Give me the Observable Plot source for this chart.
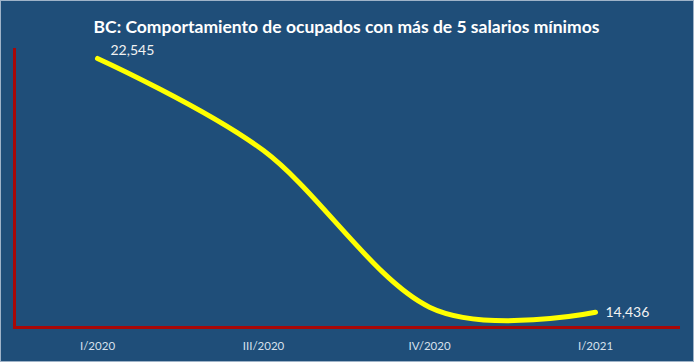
<!DOCTYPE html>
<html>
<head>
<meta charset="utf-8">
<script src="https://cdn.jsdelivr.net/npm/d3@7"></script>
<script src="https://cdn.jsdelivr.net/npm/@observablehq/plot@0.6"></script>
<style>
  html, body { margin: 0; padding: 0; background: #1F4E79; }
  #chart svg { display: block; outline: 1px solid #9fb3c8; outline-offset: -1px; }
</style>
</head>
<body>
<div id="chart"></div>
<script>
const title = "BC: Comportamiento de ocupados con más de 5 salarios mínimos";
const periods = ["I/2020", "III/2020", "IV/2020", "I/2021"];
const values = [22545, 19600, 14600, 14436];
const labelled = [true, false, false, true];
const yDomain = [13950, 22830];

const data = periods.map((p, i) => ({period: p, value: values[i], show: labelled[i]}));
const fmt = d3.format(",");

const chart = Plot.plot({
  width: 694,
  height: 362,
  marginLeft: 14,
  marginRight: 16,
  marginTop: 49,
  marginBottom: 35,
  style: {background: "#1F4E79", fontFamily: "Lato, 'Open Sans', sans-serif"},
  x: {type: "point", domain: periods, padding: 0.5, label: null},
  y: {domain: yDomain, axis: null},
  marks: [
    Plot.axisX({tickSize: 0, tickPadding: 14, fontSize: 11.5, color: "#d6e0ec", label: null}),
    Plot.frame({anchor: "left", stroke: "#A80808", strokeWidth: 3}),
    Plot.frame({anchor: "bottom", stroke: "#A80808", strokeWidth: 3}),
    Plot.line(data, {x: "period", y: "value", stroke: "#FFFF00", strokeWidth: 5, curve: "cardinal", strokeLinecap: "round"}),
    Plot.text(data.filter(d => d.show && d.period === periods[0]), {x: "period", y: "value", text: d => fmt(d.value), textAnchor: "start", dx: 13, dy: -8, fill: "#f2f2f2", fontSize: 14}),
    Plot.text(data.filter(d => d.show && d.period !== periods[0]), {x: "period", y: "value", text: d => fmt(d.value), textAnchor: "start", dx: 10, dy: 0, fill: "#f2f2f2", fontSize: 14}),
    Plot.text([title], {frameAnchor: "top", text: d => d, dy: -29, fill: "#ffffff", fontSize: 17.5, fontWeight: "bold"})
  ]
});
document.getElementById("chart").appendChild(chart);
</script>
</body>
</html>
